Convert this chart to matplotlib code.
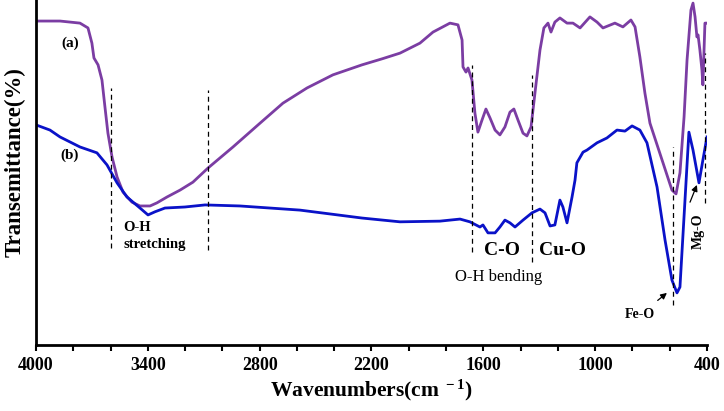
import matplotlib
matplotlib.use('Agg')
import matplotlib.pyplot as plt
from matplotlib.ticker import FixedLocator, MultipleLocator, NullLocator

plt.rcParams['font.family'] = ['Liberation Serif', 'DejaVu Serif']
plt.rcParams['mathtext.fontset'] = 'custom'
plt.rcParams['mathtext.rm'] = 'Liberation Serif:bold'
plt.rcParams['mathtext.it'] = 'Liberation Serif:bold'
plt.rcParams['mathtext.bf'] = 'Liberation Serif:bold'

wn_a = [4000, 3871, 3764, 3721, 3700, 3689, 3667, 3646, 3630, 3614, 3592, 3565,
        3533, 3485, 3442, 3388, 3351, 3297, 3227, 3158, 3077, 2943, 2798, 2675,
        2546, 2407, 2251, 2140, 2047, 1940, 1870, 1779, 1736, 1714, 1709, 1693, 1682,
        1661, 1645, 1629, 1607, 1586, 1564, 1537, 1511, 1484, 1457, 1436, 1414,
        1387, 1366, 1344, 1323, 1296, 1275, 1253, 1237, 1216, 1189, 1151, 1119,
        1081, 1028, 990, 958, 894, 851, 808, 786, 760, 733, 706, 636, 588, 566,
        545, 523, 507, 486, 475, 464, 454, 448, 438, 427, 422, 411, 405]
t_a = [93.9, 93.9, 93.3, 91.9, 87.5, 83.2, 81.2, 76.8, 69.0, 61.4, 54.5, 48.7,
       44.3, 41.4, 40.3, 40.3, 41.2, 42.9, 44.9, 47.2, 51.3, 57.4, 64.3, 70.1,
       74.5, 78.3, 81.2, 83.0, 84.6, 87.5, 90.7, 93.3, 92.8, 88.4, 80.6, 79.1, 80.3,
       76.8, 67.2, 61.7, 65.2, 68.4, 65.8, 62.3, 60.9, 63.2, 67.5, 68.4, 65.2,
       61.4, 60.6, 63.2, 73.0, 85.5, 91.9, 93.3, 90.7, 93.6, 94.8, 93.3, 93.3,
       91.9, 95.1, 93.6, 91.9, 93.3, 92.2, 94.2, 92.2, 83.5, 73.0, 64.3, 52.8,
       44.9, 43.8, 49.9, 66.1, 82.6, 97.1, 99.1, 95.1, 89.3, 89.9, 85.5, 79.7,
       75.4, 93.3, 93.3]

wn_b = [4000, 3925, 3871, 3764, 3673, 3619, 3565, 3512, 3442, 3399, 3362, 3308,
        3201, 3093, 2906, 2584, 2251, 2047, 1833, 1725, 1672, 1618, 1602, 1575,
        1537, 1511, 1484, 1457, 1430, 1387, 1339, 1296, 1269, 1242, 1216, 1189,
        1173, 1151, 1124, 1108, 1098, 1065, 1044, 990, 937, 883, 840, 802, 760,
        722, 668, 625, 588, 561, 545, 518, 497, 475, 443, 422, 400]
t_b = [63.8, 62.3, 60.3, 57.4, 55.7, 52.2, 47.0, 42.9, 39.7, 37.7, 38.6, 39.7,
       40.0, 40.6, 40.3, 39.1, 36.8, 35.7, 35.9, 36.5, 35.7, 34.2, 34.8, 32.5,
       32.5, 34.2, 36.2, 35.4, 34.2, 36.2, 38.3, 39.4, 38.3, 34.5, 34.8, 42.0,
       40.0, 35.4, 42.9, 47.8, 52.8, 55.9, 56.5, 58.6, 60.0, 62.3, 62.0, 63.5,
       62.3, 58.6, 45.8, 30.4, 18.8, 15.1, 16.8, 42.0, 61.7, 56.5, 47.0, 53.6,
       60.3]

ticks_x = [4000, 3400, 2800, 2200, 1600, 1000, 400]

# linhas tracejadas das bandas: posição, topo, base
bandas_wn = [3598, 3077, 1661, 1339, 582, 411]
bandas_top = [74.5, 73.9, 81.2, 78.3, 57.4, 84.6]
bandas_base = [28.1, 27.5, 27.0, 24.1, 11.6, 41.2]

cor_a = '#7B3DA3'
cor_b = '#0A12C8'

fig = plt.figure(figsize=(7.24, 4.11), dpi=100)
ax = fig.add_axes([0.0497, 0.1606, 0.9268, 0.8394])

ax.plot(wn_a, t_a, color=cor_a, lw=2.0, solid_joinstyle='round')
ax.plot(wn_b, t_b, color=cor_b, lw=2.0, solid_joinstyle='round')

for wn, top, base in zip(bandas_wn, bandas_top, bandas_base):
    ax.plot([wn, wn], [base, top], color='black', lw=0.9, ls=(0, (4, 3)))

ax.set_xlim(4000, 400)
ax.set_ylim(0, 100)

ax.xaxis.set_major_locator(FixedLocator(ticks_x))
ax.set_xticklabels([str(t) for t in ticks_x])
ax.xaxis.set_minor_locator(MultipleLocator(200))
ax.yaxis.set_major_locator(NullLocator())
ax.tick_params(axis='x', which='both', direction='out', length=4, width=1.5,
               labelsize=13, pad=5)
for lab in ax.get_xticklabels():
    lab.set_fontweight('bold')

for lado in ['top', 'right']:
    ax.spines[lado].set_visible(False)
ax.spines['left'].set_linewidth(2.0)
ax.spines['bottom'].set_linewidth(2.0)

ax.set_xlabel('Wavenumbers(cm$^{\\ -1}$)', fontsize=15.5, fontweight='bold', labelpad=2)
ax.set_ylabel('Transemittance(%)', fontsize=16.5, fontweight='bold')
ax.yaxis.set_label_coords(-0.016, 0.53)

# rótulos das curvas e das bandas
ax.text(3818, 87.5, '(a)', fontsize=11, fontweight='bold', ha='center', va='center')
ax.text(3818, 55.1, '(b)', fontsize=11, fontweight='bold', ha='center', va='center')
ax.text(3533, 34.2, 'O-H', fontsize=10.5, fontweight='bold', ha='left', va='center')
ax.text(3533, 29.0, 'stretching', fontsize=10.5, fontweight='bold', ha='left', va='center')
ax.text(1500, 27.5, 'C-O', fontsize=14, fontweight='bold', ha='center', va='center')
ax.text(1173, 27.5, 'Cu-O', fontsize=14, fontweight='bold', ha='center', va='center')
ax.text(1752, 19.7, 'O-H bending', fontsize=12, ha='left', va='center')

ax.annotate('Fe-O', xy=(615, 15.1), xytext=(760, 8.7), fontsize=10, fontweight='bold',
            ha='center', va='center',
            arrowprops=dict(arrowstyle='-|>', color='black', lw=0.9,
                            mutation_scale=9, shrinkA=6, shrinkB=0))
ax.text(448, 33.0, 'Mg-O', fontsize=10, fontweight='bold', rotation=90,
        ha='center', va='center')
ax.annotate('', xy=(454, 46.4), xytext=(491, 41.4),
            arrowprops=dict(arrowstyle='-|>', color='black', lw=0.9,
                            mutation_scale=9, shrinkA=0, shrinkB=0))

fig.savefig('out.png', dpi=100)
